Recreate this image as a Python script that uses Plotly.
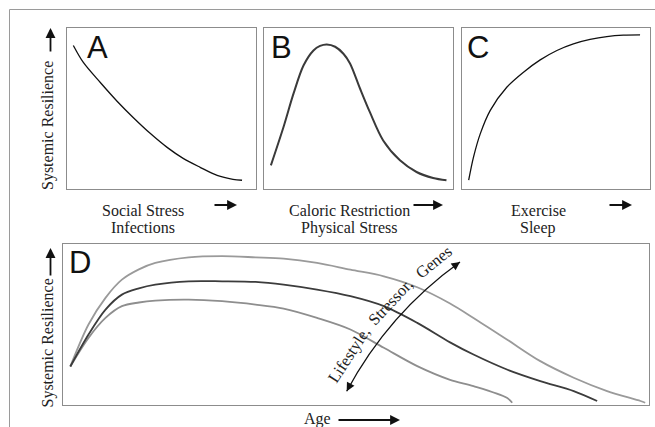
import plotly.graph_objects as go

# ---------------- data ----------------
A_x = [3.2, 8.5, 17.5, 26.5, 34.9, 43.9, 52.9, 61.4, 70.4, 79.4, 87.8, 92.6]
A_y = [88.9, 78.4, 66.0, 54.3, 44.4, 34.6, 25.9, 19.1, 13.6, 8.6, 6.2, 5.6]

B_x = [3.5, 10.2, 15.5, 20.8, 26.1, 29.6, 33.2, 37.6, 42.0, 45.5, 50.8, 56.1, 63.1, 72.0, 80.8,
       89.6, 96.7]
B_y = [14.8, 38.5, 59.1, 76.5, 85.8, 88.6, 89.5, 88.1, 83.8, 77.8, 62.3, 47.5, 30.2, 17.9, 10.7,
       7.0, 5.6]

C_x = [3.4, 6.0, 9.6, 14.9, 23.8, 32.6, 41.5, 50.4, 59.2, 68.1, 77.0, 85.8, 94.7]
C_y = [5.6, 20.0, 34.4, 48.8, 63.2, 72.4, 80.0, 85.8, 89.9, 92.6, 94.4, 95.3, 95.5]

D_top_x = [1.2, 4.3, 7.2, 10.0, 12.9, 15.7, 21.4, 27.1, 32.8, 37.6, 43.3, 49.0, 54.7, 60.4, 66.0,
           70.0, 75.7, 81.4, 87.1, 92.8, 98.5, 99.3]
D_top_y = [23.8, 49.9, 66.5, 77.8, 84.2, 88.2, 91.7, 92.4, 91.7, 90.9, 88.2, 84.0, 79.9, 73.1, 63.0,
           54.0, 40.6, 27.1, 16.8, 8.5, 2.3, 1.2]

D_mid_x = [1.2, 4.3, 7.2, 10.0, 12.9, 15.7, 21.4, 27.1, 32.8, 37.6, 43.3, 49.0, 54.7, 60.4, 66.0,
           70.0, 75.7, 81.4, 87.1, 91.1]
D_mid_y = [23.8, 43.7, 59.2, 68.5, 72.4, 74.7, 76.8, 76.8, 76.4, 74.7, 71.6, 67.5, 61.3, 50.9, 38.8,
           31.2, 21.9, 14.7, 8.5, 2.3]

D_low_x = [1.2, 4.3, 7.2, 10.0, 12.9, 15.7, 21.4, 27.1, 32.8, 37.6, 43.3, 49.0, 54.7, 60.4, 66.0,
           70.0, 75.7, 76.6]
D_low_y = [23.8, 41.6, 54.0, 61.3, 63.6, 64.8, 65.4, 64.4, 62.3, 59.8, 54.0, 46.8, 35.4, 24.0, 15.5,
           11.6, 4.3, 1.2]

panel_letters = ["A", "B", "C", "D"]
x_labels = [("Social Stress", "Infections"),
            ("Caloric Restriction", "Physical Stress"),
            ("Exercise", "Sleep")]
y_label = "Systemic Resilience"
d_x_label = "Age"
d_factor_label = ["Lifestyle,", "Stressor,", "Genes"]

# ---------------- layout helpers ----------------
W, H = 655, 427


def PX(x):
    return x / W


def PY(y):
    return 1 - y / H


SERIF = "Liberation Serif, Times New Roman, DejaVu Serif, serif"
SANS = "Liberation Sans, Arial, sans-serif"
BOX = "#8c8c8c"

fig = go.Figure()

# axes boxes (pixel extents of each panel box)
boxes = {
    "": (67.3, 256.0, 27.5, 189.3),
    "2": (264.3, 452.7, 27.5, 189.3),
    "3": (462.3, 650.0, 27.5, 189.3),
    "4": (63.3, 649.3, 244.0, 404.7),
}
for k, (x0, x1, y0, y1) in boxes.items():
    common = dict(range=[0, 100], showgrid=False, zeroline=False, showticklabels=False,
                  ticks="", showline=True, mirror=True, linecolor=BOX, linewidth=1,
                  fixedrange=True)
    fig.update_layout(**{
        "xaxis" + k: dict(domain=[PX(x0), PX(x1)], anchor="y" + k, **common),
        "yaxis" + k: dict(domain=[PY(y1), PY(y0)], anchor="x" + k, **common),
    })


def line(x, y, ax, color, width):
    fig.add_trace(go.Scatter(x=x, y=y, xaxis="x" + ax, yaxis="y" + ax, mode="lines",
                             line=dict(color=color, width=width, shape="spline", smoothing=0.9),
                             hoverinfo="skip", showlegend=False))


# Panel A
line(A_x, A_y, "", "#111111", 1.3)
# Panel B
line(B_x, B_y, "2", "#3a3a3a", 2.0)
# Panel C
line(C_x, C_y, "3", "#111111", 1.3)
# Panel D
line(D_top_x, D_top_y, "4", "#9a9a9a", 1.8)
line(D_low_x, D_low_y, "4", "#8e8e8e", 1.8)
line(D_mid_x, D_mid_y, "4", "#3c3c3c", 1.8)

ann = []
shapes = []

# outer frame (top and left)
shapes.append(dict(type="line", xref="paper", yref="paper", x0=PX(9.5), x1=1.0,
                   y0=PY(9.5), y1=PY(9.5), line=dict(color="#9a9a9a", width=1)))
shapes.append(dict(type="line", xref="paper", yref="paper", x0=PX(9.5), x1=PX(9.5),
                   y0=PY(9.5), y1=0.0, line=dict(color="#9a9a9a", width=1)))


def text(t, x, y, size=16, family=SERIF, angle=0, xanchor="center", color="#222"):
    ann.append(dict(text=t, x=PX(x), y=PY(y), xref="paper", yref="paper", xanchor=xanchor,
                    yanchor="middle", textangle=angle, showarrow=False,
                    font=dict(family=family, size=size, color=color)))


def arrow(tip_x, tip_y, dx, dy, width=1.8, size=1.1):
    ann.append(dict(text="", x=PX(tip_x), y=PY(tip_y), xref="paper", yref="paper", ax=dx, ay=dy,
                    showarrow=True, arrowhead=2, arrowsize=size, arrowwidth=width,
                    arrowcolor="#111", standoff=0))


# panel letters
letter_pos = [(85, 47), (269, 47), (464.5, 47), (66.5, 262.5)]
for t, (x, y) in zip(panel_letters, letter_pos):
    text(t, x, y, size=31, family=SANS, xanchor="left", color="#111")

# y labels with up arrows
for ymid, tip, tail in [(125.5, 28, 53), (343, 248, 277)]:
    text(y_label, 47.5, ymid, angle=-90)
    arrow(50.5, tip, 0, tail - tip)

# x labels with right arrows
xl_centers = [142.5, 349.2, 538.0]
arrows = [(213, 237), (412, 443), (608, 632)]
for (l1, l2), cx, (a0, a1) in zip(x_labels, xl_centers, arrows):
    text(l1, cx, 210.5)
    text(l2, cx, 227.5)
    arrow(a1, 205, a0 - a1, 0)

# Age label + long arrow
text(d_x_label, 317.5, 418.5)
arrow(400, 420, 337 - 400, 0)

# curved double arrow in panel D
P0 = (346.7, 391.3)
C = (388.3, 313.5)
P2 = (460.0, 262.0)
path = "M {},{} Q {},{} {},{}".format(PX(P0[0]), PY(P0[1]), PX(C[0]), PY(C[1]), PX(P2[0]), PY(P2[1]))
shapes.append(dict(type="path", xref="paper", yref="paper", path=path,
                   line=dict(color="#111", width=1.3)))
arrow(P2[0], P2[1], -8.1, 5.8, width=1.3, size=1.3)
arrow(P0[0], P0[1], 4.7, -8.8, width=1.3, size=1.3)
word_pos = [(349.5, 354.9, -57), (390.8, 301.5, -47), (433.1, 262.2, -39)]
for w, (x, y, ang) in zip(d_factor_label, word_pos):
    text(w, x, y, size=16.5, angle=ang)

fig.update_layout(width=W, height=H, margin=dict(l=0, r=0, t=0, b=0),
                  paper_bgcolor="white", plot_bgcolor="white",
                  annotations=ann, shapes=shapes, showlegend=False)

fig.write_html("out.html", config={"displayModeBar": False},
               post_script="document.body.style.margin='0';document.body.style.overflow='hidden';")
